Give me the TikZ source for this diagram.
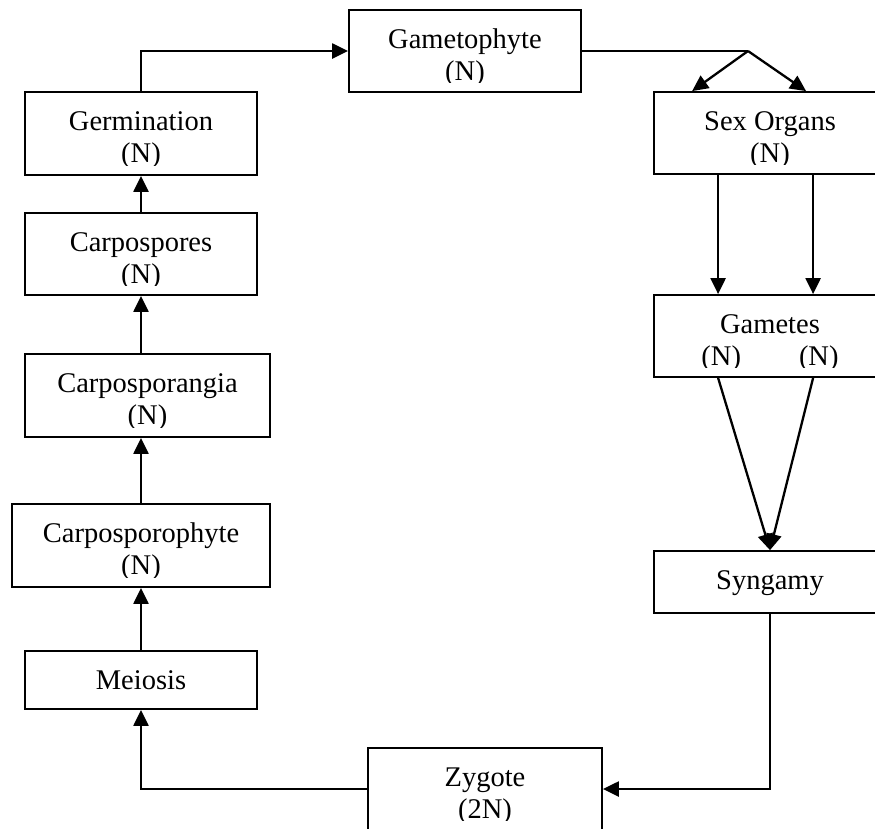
\documentclass[tikz,border=0pt]{standalone}
\usepackage{fontspec}
\setmainfont{Liberation Serif}
\usetikzlibrary{arrows.meta,fit,calc}
\tikzset{
  stagebox/.style={draw=black, line width=1.8pt, inner sep=0pt, fill=none},
  lbl/.style={font=\fontsize{28.5}{32}\selectfont, align=center, inner sep=0pt, anchor=base},
  arr/.style={line width=2.3pt, -{Triangle[length=16pt,width=15pt]}},
  plain/.style={line width=1.6pt}
}
% one-line box: text baseline 38.5 below the top edge
\newcommand{\mkboxone}[6]{%
  \node[stagebox, fit={(#2,#3) (#4,#5)}] (#1) {};
  \begin{scope}
    \clip (#2,#3) rectangle (#4,#5-10);
    \node[lbl] (#1t) at ({(#2+#4)/2},{#3+38.5}) {#6};
  \end{scope}}
% two-line box: base anchor sits on the last line
\newcommand{\mkboxtwo}[6]{%
  \node[stagebox, fit={(#2,#3) (#4,#5)}] (#1) {};
  \begin{scope}
    \clip (#2,#3) rectangle (#4,#5-10);
    \node[lbl] (#1t) at ({(#2+#4)/2},{#3+70.5}) {#6};
  \end{scope}}
\begin{document}
\begin{tikzpicture}[x=1pt,y=-1pt]
\useasboundingbox (0,0) rectangle (875,828);
\mkboxtwo{gam}{349}{10}{581}{92}{Gametophyte\\(N)}
\mkboxtwo{germ}{25}{92}{257}{175}{Germination\\(N)}
\mkboxtwo{cspores}{25}{213}{257}{295}{Carpospores\\(N)}
\mkboxtwo{csporang}{25}{354}{270}{437}{Carposporangia\\(N)}
\mkboxtwo{cspph}{12}{504}{270}{587}{Carposporophyte\\(N)}
\mkboxone{mei}{25}{651}{257}{709}{Meiosis}
\mkboxtwo{so}{654}{92}{886}{174}{Sex Organs\\(N)}
\mkboxtwo{gm}{654}{295}{886}{377}{Gametes\\(N)\hspace{58pt}(N)}
\mkboxone{syn}{654}{551}{886}{613}{Syngamy}
\mkboxtwo{zyg}{368}{748}{602}{830}{Zygote\\(2N)}
\coordinate (J) at (748,51);
% top connections
\draw[arr] (germ.north) |- (gam.west);
\draw[plain] (gam.east) -- (J);
\draw[arr] (J) -- ([xshift=39pt]so.north west);
\draw[arr] (J) -- ([xshift=153pt]so.north west);
% right column
\draw[arr] ([xshift=65pt]so.south west) -- ([xshift=65pt]gm.north west);
\draw[arr] ([xshift=160pt]so.south west) -- ([xshift=160pt]gm.north west);
\draw[arr] ([xshift=65pt]gm.south west) -- (syn.north);
\draw[arr] ([xshift=160pt]gm.south west) -- (syn.north);
\draw[arr] (syn.south) |- (zyg.east);
% bottom and left column
\draw[arr] (zyg.west) -| (mei.south);
\draw[arr] (mei.north) -- (cspph.south);
\draw[arr] (cspph.north) -- (cspph.north |- csporang.south);
\draw[arr] (cspores.south |- csporang.north) -- (cspores.south);
\draw[arr] (cspores.north) -- (germ.south);
\end{tikzpicture}
\end{document}
